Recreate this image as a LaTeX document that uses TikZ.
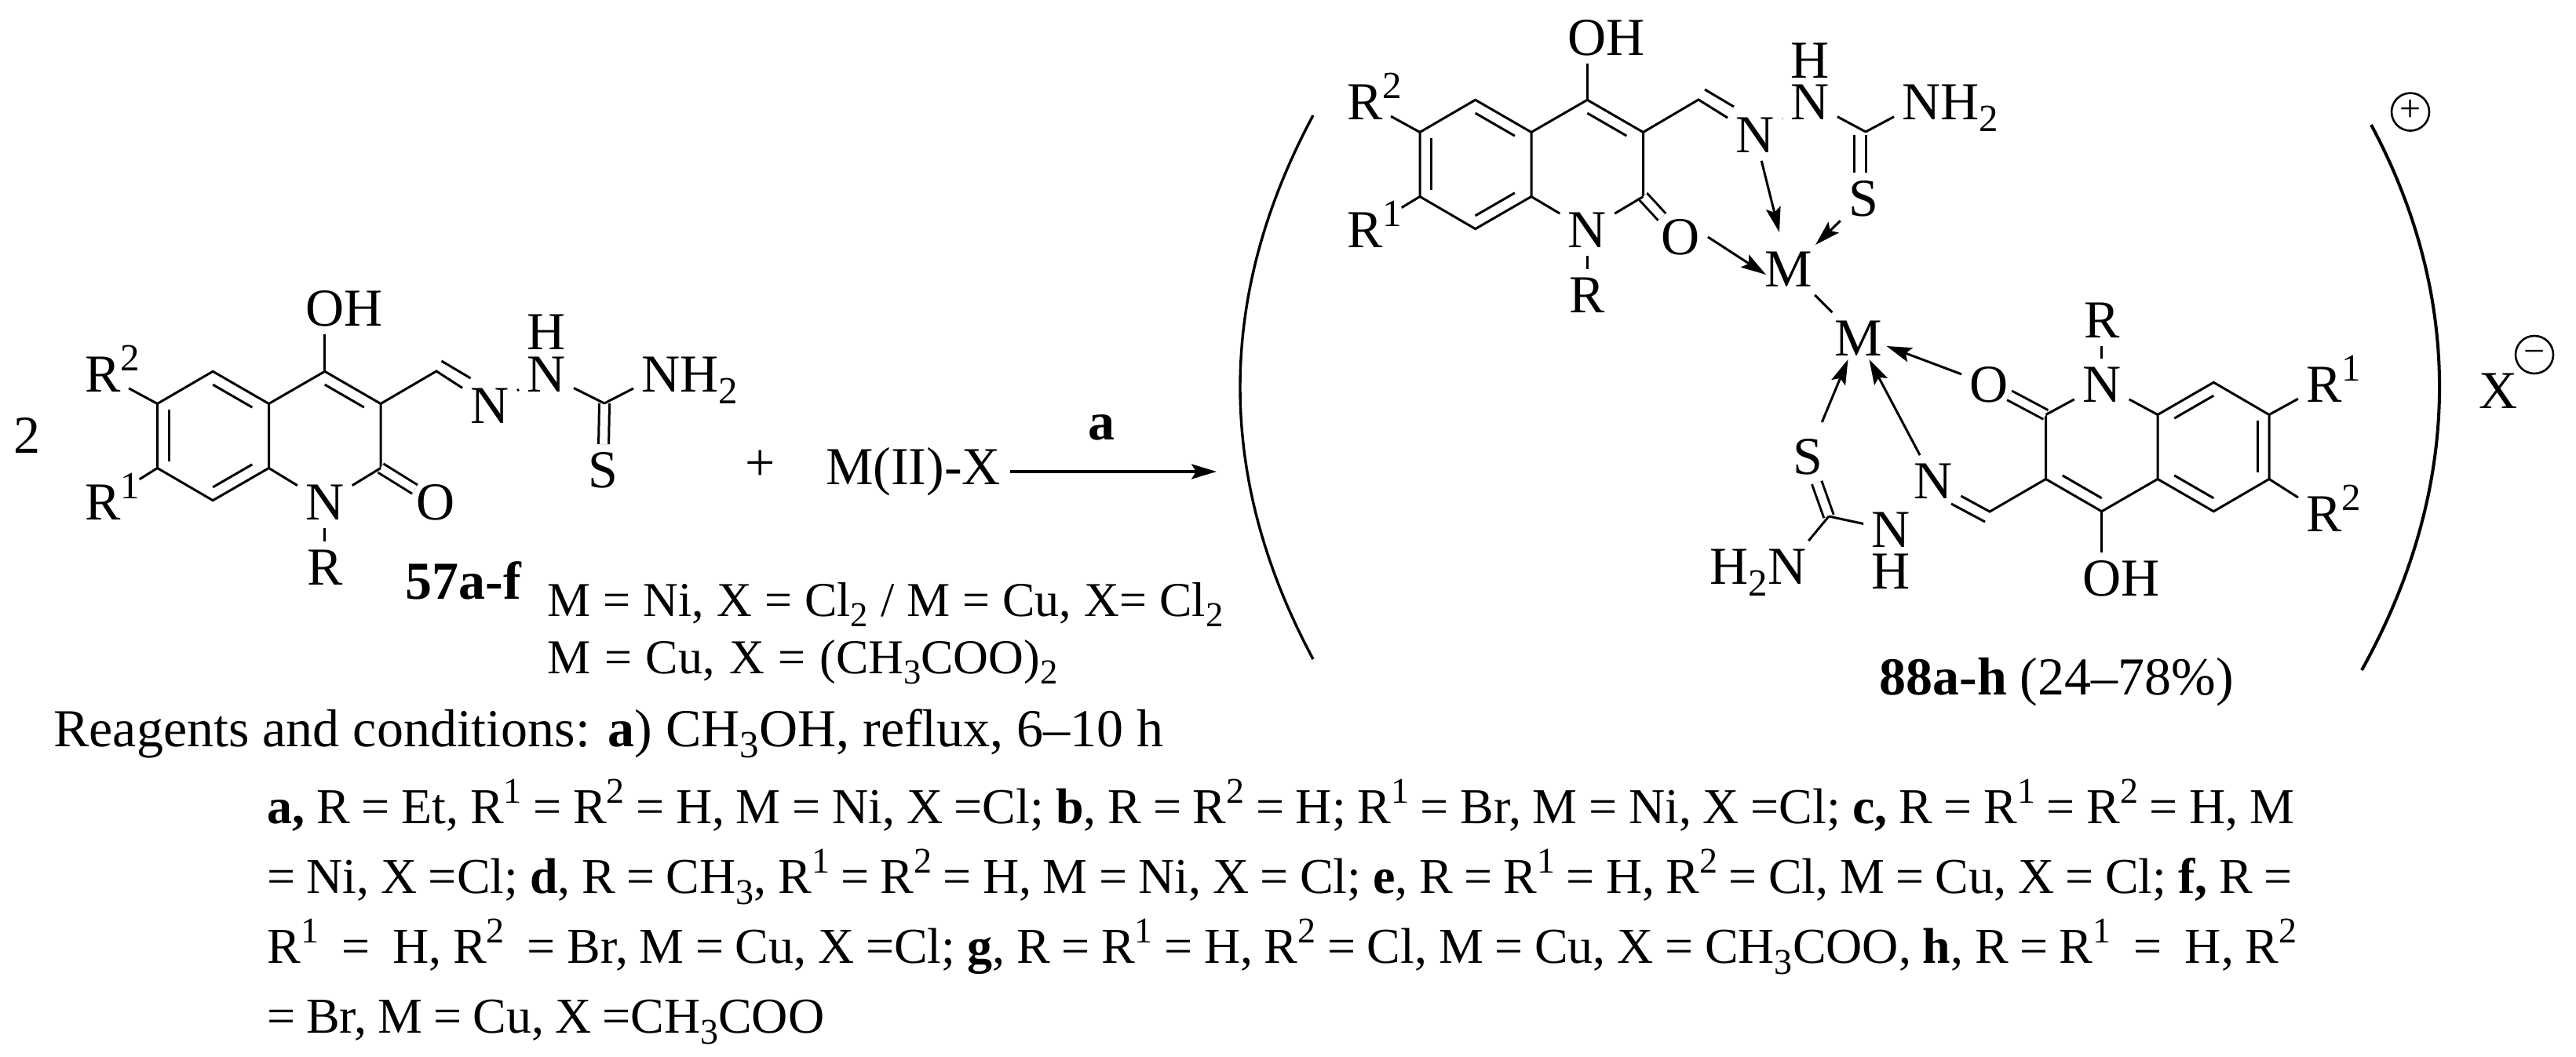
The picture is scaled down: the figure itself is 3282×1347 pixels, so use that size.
\documentclass[tikz,border=0pt]{standalone}
\usepackage{fontspec}
\setmainfont{Liberation Serif}
\usetikzlibrary{arrows.meta,calc}
\newcommand{\chemup}[1]{\raisebox{.4em}{\scalebox{.72}{#1}}}
\newcommand{\chemdn}[1]{\raisebox{-.22em}{\scalebox{.72}{#1}}}
\tikzset{
  bond/.style={
    line width=1.5pt,
  },
  dbl bond/.style={
    line width=1.5pt,
    double,
    double distance=#1,
  },
  dbl bond/.default=5pt,
  dative/.style={
    line width=1.5pt,
    -{Stealth[length=16pt,width=9.5pt,inset=3pt]},
  },
  atom/.style={
    font=\fontsize{34pt}{40pt}\selectfont,
    text height=22.5pt,
    text depth=0pt,
    inner sep=5pt,
  },
  big text/.style={
    font=\fontsize{34pt}{40pt}\selectfont,
    inner sep=0pt,
    anchor=base west,
  },
  metal text/.style={
    font=\fontsize{31pt}{40pt}\selectfont,
    inner sep=0pt,
    anchor=base west,
  },
  row text/.style={
    font=\fontsize{32pt}{40pt}\selectfont,
    inner sep=0pt,
    anchor=base west,
  },
  charge/.style={
    draw,
    circle,
    line width=1.3pt,
    font=\fontsize{24pt}{28pt}\selectfont,
    text height=12pt,
    text depth=0pt,
    inner sep=0pt,
    minimum size=24pt,
  },
}
\newcommand{\inbond}[4]{%
  \draw[bond] ($(#1)!#3pt!(#2)!7.3pt!-90:(#2)$) -- ($(#2)!#4pt!(#1)!7.3pt!90:(#1)$);
}
\newcommand{\quinolone}[4]{%
  \begin{scope}[shift={(#2,#3)},rotate=#4]
    \coordinate (#1c8a) at (0,41);
    \coordinate (#1c4a) at (0,-41);
    \coordinate (#1c5) at (-71.3,-82.2);
    \coordinate (#1c6) at (-142,-41);
    \coordinate (#1c7) at (-142,41);
    \coordinate (#1c8) at (-71.3,82.2);
    \coordinate (#1c4) at (71.3,-82.2);
    \coordinate (#1c3) at (142.5,-41);
    \coordinate (#1c2) at (142.5,41);
    \draw[bond] (#1c8a) -- (#1c4a) -- (#1c5) -- (#1c6) -- (#1c7) -- (#1c8) -- cycle;
    \draw[bond] (#1c4a) -- (#1c4) -- (#1c3) -- (#1c2);
  \end{scope}
  \inbond{#1c7}{#1c6}{4}{4}
  \inbond{#1c5}{#1c4a}{4.2}{8}
  \inbond{#1c8a}{#1c8}{8}{4.2}
  \inbond{#1c4}{#1c3}{4.2}{8}
}

\begin{document}
\begin{tikzpicture}[x=0.5pt,y=-0.5pt]
        \useasboundingbox (0,0) rectangle (3282,1347);

        \node [big text, anchor=base] (two) at (34.5,578) {2};
        \quinolone{a}{342.5}{555.5}{0}
        \node [atom] (aoh) at (413.8,393) {O\rlap{H}};
        \node [atom] (ar2) at (131,477) {R\rlap{\chemup{2}}};
        \node [atom] (ar1) at (131,640) {R\rlap{\chemup{1}}};
        \node [atom] (an1) at (413.8,640) {N};
        \node [atom] (ar) at (413.8,723) {R};
        \node [atom] (aoxo) at (555,640) {O};
        \node [atom] (anim) at (624,517) {N};
        \node [atom] (anh) at (696,477) {N};
        \node [atom] (ah) at (696,423) {H};
        \node [atom] (anh2) at (842,477) {N\rlap{H\chemdn{2}}};
        \node [atom] (as) at (768.5,599) {S};
        \coordinate (ach) at (556,473);
        \coordinate (ats) at (770,514);
        \coordinate (ai1) at (562.5,460);
        \coordinate (ai2) at (599.5,482);
        \draw [dbl bond, shorten >=-5pt] (ac2) -- (aoxo);
        \draw [dbl bond] (ats) -- (as);
        \draw [bond] (ac4) -- (aoh);
        \draw [bond] (ac6) -- (ar2);
        \draw [bond, shorten >=8pt] (ac7) -- (ar1);
        \draw [bond] (ac8a) -- (an1);
        \draw [bond] (ac2) -- (an1);
        \draw [bond] (an1) -- (ar);
        \draw [bond] (ac3) -- (ach) -- (anim);
        \draw [bond] (ai1) -- (ai2);
        \draw [bond] (anim) -- (anh);
        \draw [bond] (anh) -- (ats);
        \draw [bond] (ats) -- (anh2);

        \node [big text, anchor=base] (plus) at (969,612) {+};
        \node [big text, anchor=base west] (lbla) at (516,763) {\bfseries 57a-f};
        \node [atom, text height=, text depth=, inner sep=6pt] (mx) at (1163.5,601) {M(II)-X};
        \coordinate (rxnend) at (1550,601);
        \draw [dative, line width=1.8pt] (mx) -- (rxnend);
        \node [big text, anchor=base] (cond) at (1403,561) {\bfseries a};
        \node [metal text] (mline1) at (697,785) {\makebox[430.5pt][s]{M = Ni, X = Cl\chemdn{2} / M = Cu, X= Cl\chemdn{2}}};
        \node [metal text] (mline2) at (697,858) {\makebox[325pt][s]{M = Cu, X = (CH\chemdn{3}COO)\chemdn{2}}};
        \node [big text] (reag) at (68,951) {Reagents and conditions: \textbf{a}) CH\chemdn{3}OH, reflux, 6--10 h};

        \draw [line width=1.7pt] (1673,147) .. controls (1549,378) and (1549,609) .. (1673,840);
        \quinolone{b}{1951}{209.5}{0}
        \node [atom] (boh) at (2022.3,48) {O\rlap{H}};
        \node [atom] (br2) at (1739,130) {R\rlap{\chemup{2}}};
        \node [atom] (br1) at (1739,293) {R\rlap{\chemup{1}}};
        \node [atom] (bn1) at (2022.3,293) {N};
        \node [atom] (br) at (2022.3,376) {R};
        \node [atom] (boxo) at (2141,302) {O};
        \node [atom] (bnim) at (2236,172) {N};
        \node [atom] (bnh) at (2306,130) {N};
        \node [atom] (bh) at (2306,77) {H};
        \node [atom] (bnh2) at (2448,130) {N\rlap{H\chemdn{2}}};
        \node [atom] (bs) at (2374,253) {S};
        \node [atom] (mone) at (2279,343) {M};
        \node [atom] (mtwo) at (2367.5,431) {M};
        \coordinate (bch) at (2164,127);
        \coordinate (bts) at (2377,168);
        \coordinate (btd) at (2369.5,172);
        \coordinate (bi1) at (2172,114);
        \coordinate (bi2) at (2209,136);
        \draw [dbl bond, shorten >=-5pt] (bc2) -- (boxo);
        \draw [dbl bond=6pt] (btd) -- (btd |- bs.north);
        \draw [bond] (bc4) -- (boh);
        \draw [bond] (bc6) -- (br2);
        \draw [bond, shorten >=8pt] (bc7) -- (br1);
        \draw [bond] (bc8a) -- (bn1);
        \draw [bond] (bc2) -- (bn1);
        \draw [bond] (bn1) -- (br);
        \draw [bond] (bc3) -- (bch) -- (bnim);
        \draw [bond] (bi1) -- (bi2);
        \draw [bond] (bnim) -- (bnh);
        \draw [bond] (bnh) -- (bts);
        \draw [bond] (bts) -- (bnh2);
        \draw [bond] (mone) -- (mtwo);
        \draw [dative] (bnim) -- ([shift={(-12,-47)}]mone.center);
        \draw [dative] (bs) -- ([shift={(34,-31)}]mone.center);
        \draw [dative] (boxo.east) -- ([shift={(-29,7)}]mone.center);

        \quinolone{c}{2749}{569.5}{180}
        \node [atom] (coh) at (2677.7,737) {O\rlap{H}};
        \node [atom] (cr1) at (2961,490) {R\rlap{\chemup{1}}};
        \node [atom] (cr2) at (2961,655) {R\rlap{\chemup{2}}};
        \node [atom] (cn1) at (2677.7,490) {N};
        \node [atom] (cr) at (2677.7,408) {R};
        \node [atom] (coxo) at (2534,490) {O};
        \node [atom] (cnim) at (2463.5,613) {N};
        \node [atom] (cnh) at (2409,675) {N};
        \node [atom] (ch) at (2409,728) {H};
        \node [atom] (cnh2) at (2277,722) {\llap{H\chemdn{2}}N};
        \node [atom] (cs) at (2303,582) {S};
        \coordinate (cch) at (2535,652);
        \coordinate (cts) at (2330,658);
        \coordinate (ci1) at (2529,665);
        \coordinate (ci2) at (2486,642);
        \draw [dbl bond, shorten >=-5pt] (cc2) -- (coxo);
        \draw [dbl bond] (cts) -- (cs);
        \draw [bond] (cc4) -- (coh);
        \draw [bond] (cc7) -- (cr1);
        \draw [bond] (cc6) -- (cr2);
        \draw [bond] (cc8a) -- (cn1);
        \draw [bond] (cc2) -- (cn1);
        \draw [bond] (cn1) -- (cr);
        \draw [bond] (cc3) -- (cch) -- (cnim);
        \draw [bond] (ci1) -- (ci2);
        \draw [bond] (cnh) -- (cts);
        \draw [bond] (cts) -- (cnh2);
        \draw [dative] (coxo) -- ([shift={(36,10)}]mtwo.center);
        \draw [dative] (cnim) -- ([shift={(14,27)}]mtwo.center);
        \draw [dative, shorten <=6pt] (cs) -- ([shift={(-13,27)}]mtwo.center);
        \node [big text] (lblb) at (2394,885) {\textbf{88a-h} (24--78\%)};

        \draw [line width=2pt] (3021,159) .. controls (3139,380) and (3139,620) .. (3009,854);
        \node [charge] (cplus) at (3071,142.6) {+};
        \node [atom] (xion) at (3183,498) {X};
        \node [charge] (cminus) at (3229,452) {−};

        \node [row text] (row1) at (340,1049) {\makebox[1291.5pt][s]{\textbf{a,} R = Et, R\chemup{1} = R\chemup{2} = H, M = Ni, X =Cl; \textbf{b}, R = R\chemup{2} = H; R\chemup{1} = Br, M = Ni, X =Cl; \textbf{c,} R = R\chemup{1} = R\chemup{2} = H, M}};
        \node [row text] (row2) at (340,1138) {\makebox[1290pt][s]{= Ni, X =Cl; \textbf{d}, R = CH\chemdn{3}, R\chemup{1} = R\chemup{2} = H, M = Ni, X = Cl; \textbf{e}, R = R\chemup{1} = H, R\chemup{2} = Cl, M = Cu, X = Cl; \textbf{f,} R =}};
        \node [row text] (row3) at (340,1227) {\makebox[1293pt][s]{R\chemup{1} \ = \ H, R\chemup{2} \ = Br, M = Cu, X =Cl; \textbf{g}, R = R\chemup{1} = H, R\chemup{2} = Cl, M = Cu, X = CH\chemdn{3}COO, \textbf{h}, R = R\chemup{1} \ = \ H, R\chemup{2}}};
        \node [row text] (row4) at (340,1316) {\makebox[355pt][s]{= Br, M = Cu, X =CH\chemdn{3}COO}};
    \end{tikzpicture}
\end{document}
